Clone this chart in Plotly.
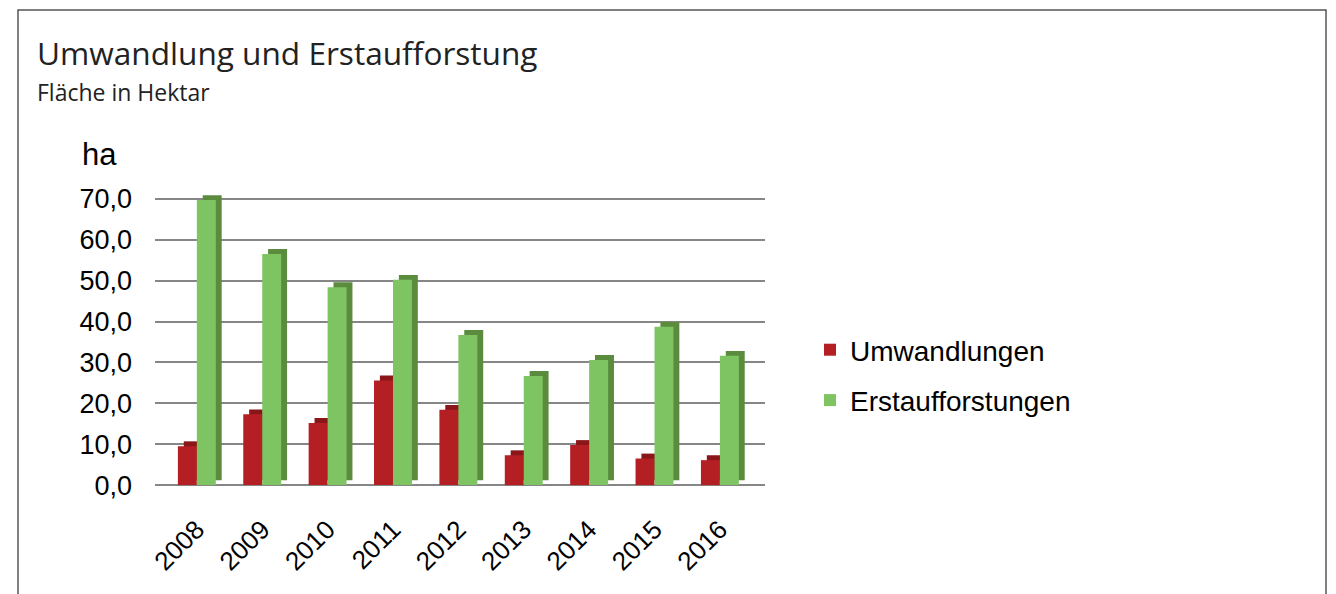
import plotly.graph_objects as go

years = ["2008", "2009", "2010", "2011", "2012", "2013", "2014", "2015", "2016"]
umwandlungen = [9.5, 17.3, 15.2, 25.6, 18.4, 7.3, 9.8, 6.5, 6.1]
erstaufforstungen = [69.7, 56.5, 48.4, 50.2, 36.7, 26.7, 30.6, 38.7, 31.6]
series_names = ["Umwandlungen", "Erstaufforstungen"]
y_ticks = [0, 10, 20, 30, 40, 50, 60, 70]

RED, RED_DARK = "#B41F24", "#8A1619"
GREEN, GREEN_DARK = "#7EC462", "#5B8C3D"
W = 0.29      # bar width (category units)
DX = 0.09     # depth shift (category units)
DY = 1.2      # depth shift (value units)

fig = go.Figure()
# depth (shadow) bars to fake the 3D extrusion
for vals, off, col in [(umwandlungen, -W, RED_DARK), (erstaufforstungen, 0.0, GREEN_DARK)]:
    fig.add_trace(go.Bar(x=years, y=vals, base=[DY] * len(vals), offset=off + DX, width=W,
                         marker=dict(color=col, line=dict(width=0)),
                         showlegend=False, hoverinfo="skip"))
# front faces
for vals, off, col, name, grp in [(umwandlungen, -W, RED, series_names[0], "u"),
                                  (erstaufforstungen, 0.0, GREEN, series_names[1], "e")]:
    fig.add_trace(go.Bar(x=years, y=vals, offset=off, width=W, name=name, legendgroup=grp,
                         marker=dict(color=col, line=dict(width=0))))

OFF = 8  # page body margin
FW, FH = 1336 - OFF, 594 - OFF
L, R, T, B = 155 - OFF, 765 - OFF, 189 - OFF, 490 - OFF
pw, ph = R - L, B - T
px = lambda x: (x - OFF - L) / pw      # page x -> paper
py = lambda y: (B - (y - OFF)) / ph    # page y -> paper

fig.update_layout(
    width=FW, height=FH,
    barmode="overlay",
    separators=",.",
    paper_bgcolor="white", plot_bgcolor="white",
    margin=dict(l=L, r=FW - R, t=T, b=FH - B, autoexpand=False),
    font=dict(family="Liberation Sans, Arial, sans-serif", color="black"),
    xaxis=dict(type="category", range=[-0.64, 8.69], tickangle=-45,
               tickfont=dict(size=26), showgrid=False, ticks="", showline=False,
               ticklabelstandoff=18),
    yaxis=dict(range=[-1.2, 72.4], tickvals=y_ticks, tickformat=".1f",
               tickfont=dict(size=27), showgrid=True, gridcolor="#868686",
               gridwidth=2.2, zeroline=False, ticks="", ticklabelstandoff=22,
               showline=False),
    legend=dict(x=px(810), y=py(375), xanchor="left", yanchor="middle",
                font=dict(size=28), itemwidth=30, tracegroupgap=11,
                traceorder="grouped", bgcolor="rgba(0,0,0,0)"),
    annotations=[
        dict(text="Umwandlung und Erstaufforstung", xref="paper", yref="paper",
             x=px(35), y=py(53), xanchor="left", yanchor="middle", showarrow=False,
             font=dict(family="Open Sans, sans-serif", size=31.6, color="#222222")),
        dict(text="Fläche in Hektar", xref="paper", yref="paper",
             x=px(35), y=py(92), xanchor="left", yanchor="middle", showarrow=False,
             font=dict(family="Open Sans, sans-serif", size=23, color="#222222")),
        dict(text="ha", xref="paper", yref="paper",
             x=px(80), y=py(154), xanchor="left", yanchor="middle", showarrow=False,
             font=dict(size=31, color="black")),
    ],
    shapes=[
        dict(type="rect", xref="paper", yref="paper",
             x0=px(18), x1=px(1326), y0=py(640), y1=py(10),
             line=dict(color="#555555", width=1.5), layer="below"),
    ],
)

fig.write_html("out.html")
